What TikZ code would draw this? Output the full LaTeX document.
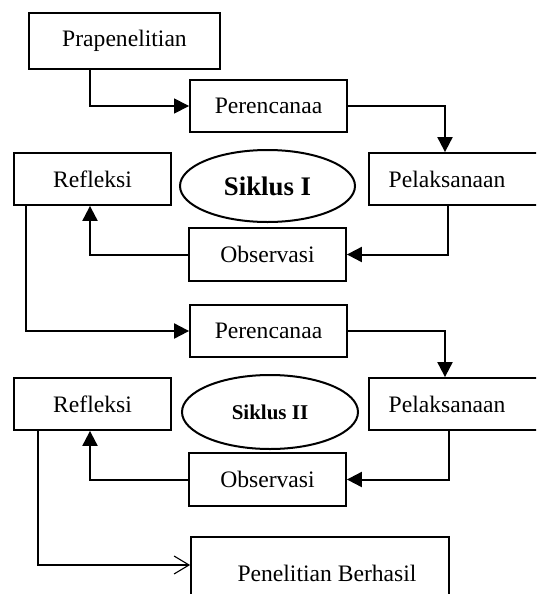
\documentclass[tikz,border=0pt]{standalone}
\usepackage{fontspec}
\setmainfont{Liberation Serif}
\usetikzlibrary{arrows.meta,shapes.geometric}
\begin{document}
\begin{tikzpicture}[x=0.5pt,y=-0.5pt,
  box/.style={draw,line width=0.9pt,inner sep=0pt,font=\fontsize{11.8}{14}\selectfont},
  smallbox/.style={box,minimum width=78.5pt,minimum height=26pt},
  ell/.style={draw,ellipse,line width=1pt,inner sep=0pt},
  conn/.style={line width=1pt,-{Triangle[length=7.5pt,width=7.5pt]}},
  thinconn/.style={line width=0.55pt,-{Triangle[length=7.5pt,width=7.5pt]}},
  openconn/.style={line width=0.55pt,-{Straight Barb[length=7.5pt,width=9pt]}}]
\useasboundingbox (0,0) rectangle (536,594);
\clip (0,0) rectangle (536,594);
% boxes
\node[box,minimum width=95.5pt,minimum height=28pt] (pra) at (124.5,41) {Prapenelitian};
\node[smallbox] (per1) at (268.5,106) {Perencanaa};
\node[smallbox] (ref1) at (92.5,179) {Refleksi};
\node[box,minimum width=95.5pt,minimum height=26pt] (pel1) at (464.5,179) {Pelaksanaan\kern17.5pt};
\node[ell,minimum width=87.5pt,minimum height=36pt] (sik1) at (267.5,186) {\fontsize{13.4}{15}\selectfont\bfseries Siklus I};
\node[box,minimum width=78.5pt,minimum height=26.5pt] (obs1) at (267.5,254.5) {Observasi};
\node[smallbox] (per2) at (268.5,331) {Perencanaa};
\node[smallbox] (ref2) at (92.5,404) {Refleksi};
\node[box,minimum width=95.5pt,minimum height=26pt] (pel2) at (464.5,404) {Pelaksanaan\kern17.5pt};
\node[ell,minimum width=88pt,minimum height=37pt] (sik2) at (270,412) {\fontsize{10.5}{12}\selectfont\bfseries Siklus II};
\node[box,minimum width=78.5pt,minimum height=26.5pt] (obs2) at (267.5,479.5) {Observasi};
\node[box,minimum width=129pt,minimum height=36pt] (pen) at (320,573) {\kern7pt Penelitian Berhasil};
% connectors
\draw[thinconn] ([xshift=-17.25pt]pra.south) |- (per1.west);
\draw[conn] (per1.east) -| ([xshift=-9.75pt]pel1.north);
\draw[conn] ([xshift=-8.25pt]pel1.south) |- (obs1.east);
\draw[conn] (obs1.west) -| ([xshift=-1.25pt]ref1.south);
\draw[conn] ([xshift=-33.25pt]ref1.south) |- (per2.west);
\draw[conn] (per2.east) -| ([xshift=-9.75pt]pel2.north);
\draw[conn] ([xshift=-7.75pt]pel2.south) |- (obs2.east);
\draw[conn] (obs2.west) -| ([xshift=-1.25pt]ref2.south);
\draw[openconn] ([xshift=-27.25pt]ref2.south) |- ([yshift=4pt]pen.west);
\end{tikzpicture}
\end{document}
